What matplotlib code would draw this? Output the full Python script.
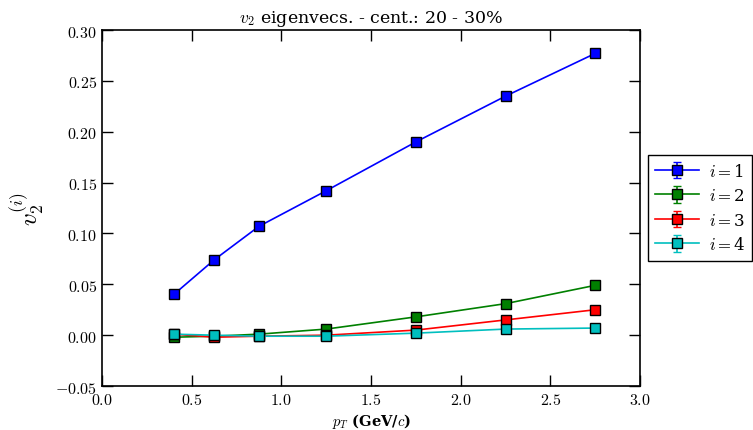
import matplotlib
matplotlib.use("Agg")
import matplotlib.pyplot as plt
from matplotlib.ticker import FuncFormatter

plt.rcParams['mathtext.fontset'] = 'cm'
plt.rcParams['font.family'] = ['DejaVu Serif']

pt = [0.4, 0.625, 0.875, 1.25, 1.75, 2.25, 2.75]
v2_i1 = [0.040, 0.074, 0.107, 0.142, 0.190, 0.235, 0.277]
v2_i2 = [-0.002, -0.001, 0.001, 0.006, 0.018, 0.031, 0.049]
v2_i3 = [0.001, -0.002, -0.001, 0.000, 0.005, 0.015, 0.025]
v2_i4 = [0.001, 0.000, -0.001, -0.001, 0.002, 0.006, 0.007]
err = [0.001, 0.001, 0.001, 0.001, 0.001, 0.001, 0.001]
series = [v2_i1, v2_i2, v2_i3, v2_i4]
labels = [r'$i = $1', r'$i = $2', r'$i = $3', r'$i = $4']
colors = ['#0000ff', '#008000', '#ff0000', '#00bfbf']

fig = plt.figure(figsize=(7.53, 4.31), dpi=100, facecolor='white')
ax = fig.add_axes([0.1355, 0.102, 0.7145, 0.826])

for ys, lab, c in zip(series, labels, colors):
    ax.errorbar(pt, ys, yerr=err, color=c, marker='s', markersize=7.5,
                markeredgecolor='black', markeredgewidth=1.0, linewidth=1.2,
                capsize=3, label=lab)

ax.set_xlim(0.0, 3.0)
ax.set_ylim(-0.05, 0.30)
ax.set_xticks([0.0, 0.5, 1.0, 1.5, 2.0, 2.5, 3.0])
ax.set_yticks([-0.05, 0.0, 0.05, 0.10, 0.15, 0.20, 0.25, 0.30])
fmt2 = FuncFormatter(lambda v, p: r'$%.2f$' % v if abs(v) > 1e-9 else r'$0.00$')
fmt1 = FuncFormatter(lambda v, p: r'$%.1f$' % v)
ax.yaxis.set_major_formatter(fmt2)
ax.xaxis.set_major_formatter(fmt1)
ax.tick_params(direction='in', length=8, width=1, top=True, right=True, labelsize=11.5)
for s in ax.spines.values():
    s.set_linewidth(1.2)

ax.set_xlabel(r'$p_T$ (GeV/$c$)', fontsize=10.5, fontweight='bold', labelpad=2)
ax.set_ylabel(r'$v_2^{(i)}$', fontsize=18, labelpad=6)
ax.set_title(r'$v_2$ eigenvecs. - cent.: 20 - 30%', fontsize=12.5)

leg = ax.legend(loc='center left', bbox_to_anchor=(1.005, 0.5), numpoints=1,
                fontsize=12, fancybox=False, framealpha=1, edgecolor='black',
                handlelength=2.6, handletextpad=0.6, borderpad=0.45,
                labelspacing=0.45, borderaxespad=0.3)
leg.get_frame().set_linewidth(1.0)

fig.savefig('out.png', dpi=100, facecolor='white')
